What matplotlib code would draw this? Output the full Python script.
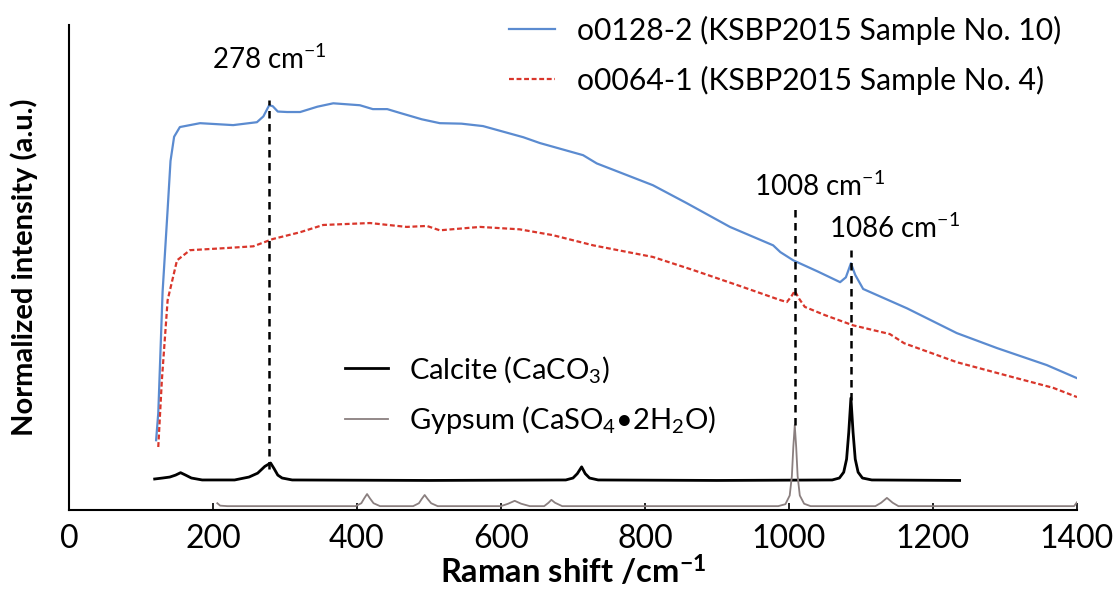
import numpy as np
import matplotlib
matplotlib.use("Agg")
import matplotlib.pyplot as plt

plt.rcParams['font.family'] = ['Lato', 'DejaVu Sans']
plt.rcParams['mathtext.fontset'] = 'custom'
plt.rcParams['mathtext.rm'] = 'Lato'
plt.rcParams['mathtext.default'] = 'regular'

# o0128-2 (KSBP2015 Sample No. 10)
x_o128 = [121, 124, 130, 137, 141, 146, 154, 182, 228, 261, 270, 278, 283, 290, 303, 321, 345,
          367, 404, 422, 442, 460, 490, 515, 545, 575, 631, 654, 714, 733, 811, 858, 918, 978,
          988, 1006, 1040, 1071, 1079, 1086, 1092, 1103, 1164, 1233, 1289, 1358, 1400]
y_o128 = [0.144, 0.200, 0.450, 0.620, 0.720, 0.770, 0.790, 0.798, 0.794, 0.800, 0.812, 0.835,
          0.833, 0.822, 0.821, 0.821, 0.832, 0.839, 0.835, 0.827, 0.827, 0.819, 0.806, 0.798,
          0.797, 0.792, 0.769, 0.757, 0.732, 0.715, 0.670, 0.633, 0.584, 0.546, 0.532, 0.515,
          0.492, 0.470, 0.480, 0.509, 0.485, 0.456, 0.416, 0.365, 0.334, 0.299, 0.272]

# o0064-1 (KSBP2015 Sample No. 4)
x_o064 = [124, 129, 137, 150, 168, 214, 256, 283, 321, 353, 418, 469, 497, 515, 571, 626, 672,
          728, 811, 867, 932, 988, 997, 1003, 1008, 1014, 1022, 1050, 1089, 1140, 1160, 1233,
          1311, 1367, 1400]
y_o064 = [0.130, 0.268, 0.433, 0.515, 0.536, 0.540, 0.544, 0.559, 0.573, 0.588, 0.592, 0.584,
          0.586, 0.577, 0.584, 0.579, 0.567, 0.546, 0.522, 0.495, 0.462, 0.433, 0.429, 0.440,
          0.452, 0.436, 0.419, 0.402, 0.381, 0.363, 0.344, 0.305, 0.274, 0.252, 0.233]

# Calcite reference
x_cal = [119, 130, 140, 148, 155, 162, 170, 185, 230, 250, 262, 272, 280, 285, 290, 296, 310,
         500, 690, 700, 706, 712, 717, 723, 735, 900, 1060, 1070, 1076, 1080, 1083, 1086, 1089,
         1092, 1096, 1102, 1115, 1237]
y_cal = [0.064, 0.066, 0.068, 0.072, 0.077, 0.072, 0.066, 0.062, 0.062, 0.068, 0.076, 0.090,
         0.097, 0.085, 0.072, 0.066, 0.062, 0.061, 0.062, 0.066, 0.075, 0.089, 0.075, 0.066,
         0.062, 0.061, 0.062, 0.066, 0.078, 0.105, 0.160, 0.231, 0.160, 0.105, 0.078, 0.066,
         0.062, 0.061]

# Gypsum reference
x_gyp = [206, 210, 220, 398, 406, 410, 414, 418, 423, 432, 478, 486, 490, 494, 498, 503, 512,
         600, 610, 619, 628, 640, 660, 666, 670, 675, 685, 985, 995, 1001, 1004, 1006, 1008,
         1010, 1012, 1015, 1021, 1030, 1120, 1128, 1136, 1144, 1152, 1396, 1400]
y_gyp = [0.014, 0.009, 0.008, 0.008, 0.014, 0.024, 0.033, 0.024, 0.014, 0.008, 0.008, 0.014,
         0.023, 0.031, 0.023, 0.014, 0.008, 0.008, 0.013, 0.019, 0.013, 0.008, 0.008, 0.015,
         0.021, 0.015, 0.008, 0.008, 0.012, 0.030, 0.070, 0.130, 0.175, 0.130, 0.070, 0.030,
         0.013, 0.008, 0.008, 0.015, 0.025, 0.015, 0.008, 0.008, 0.016]

# marked peaks: position, dashed line bottom/top, label position
peak_pos = [278, 1008, 1086]
peak_lo = [0.085, 0.175, 0.227]
peak_hi = [0.845, 0.630, 0.536]
peak_label_xy = [(278, 0.930), (1043, 0.668), (1147, 0.580)]

fig = plt.figure(figsize=(11.2, 5.97), dpi=100)
ax = fig.add_axes([0.0616, 0.1457, 0.9, 0.812])

blue = '#5b8bd0'
red = '#d9362b'
l1, = ax.plot(x_o128, y_o128, color=blue, lw=1.6)
l2, = ax.plot(x_o064, y_o064, color=red, lw=1.6, ls=(0, (2.2, 1.2)))
l3, = ax.plot(x_cal, y_cal, color='black', lw=2.0)
l4, = ax.plot(x_gyp, y_gyp, color='#8a7f7f', lw=1.3)

for p, lo, hi, (tx, ty) in zip(peak_pos, peak_lo, peak_hi, peak_label_xy):
    ax.plot([p, p], [lo, hi], color='black', lw=1.8, ls=(0, (3, 2.2)))
    ax.text(tx, ty, f'{p} cm$^{{-1}}$', ha='center', va='center', fontsize=20)

ax.set_xlim(0, 1400)
ax.set_ylim(0, 1)
ax.set_xticks(range(0, 1401, 200))
ax.set_yticks([])
ax.tick_params(axis='x', direction='in', length=5, width=1.2, labelsize=23, pad=10)
for s in ['top', 'right']:
    ax.spines[s].set_visible(False)
for s in ['left', 'bottom']:
    ax.spines[s].set_linewidth(1.5)

ax.set_xlabel('Raman shift /cm$^{-1}$', fontsize=23.5, fontweight='bold', labelpad=0)
ax.set_ylabel('Normalized intensity (a.u.)', fontsize=21, fontweight='bold', labelpad=22)

leg1 = ax.legend([l1, l2], ['o0128-2 (KSBP2015 Sample No. 10)', 'o0064-1 (KSBP2015 Sample No. 4)'],
                 loc='upper left', bbox_to_anchor=(0.41, 1.076), frameon=False, fontsize=21.7,
                 handlelength=1.5, handletextpad=0.73, labelspacing=0.7)
ax.add_artist(leg1)
ax.legend([l3, l4], ['Calcite (CaCO$_3$)', 'Gypsum (CaSO$_4$•2H$_2$O)'],
          loc='upper left', bbox_to_anchor=(0.248, 0.376), frameon=False, fontsize=21,
          handlelength=1.45, handletextpad=0.75, labelspacing=0.65)

fig.savefig('out.png', dpi=100)
